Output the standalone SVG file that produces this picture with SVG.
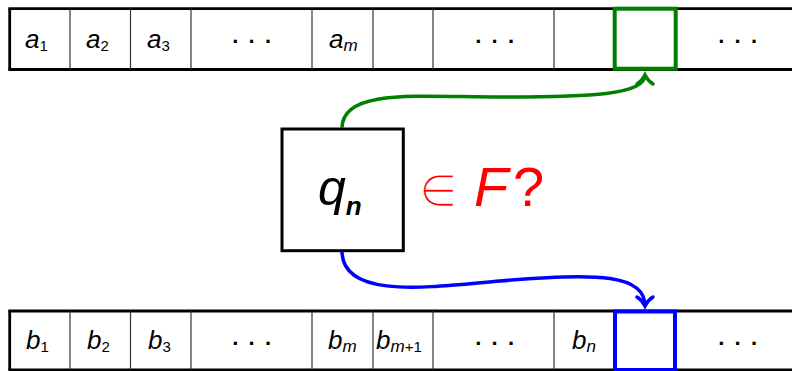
<svg xmlns="http://www.w3.org/2000/svg" width="792" height="371" viewBox="0 0 792 371">
<style>
.tape{stroke:#000;stroke-width:2.8;fill:none}
.div{stroke:#333;stroke-width:1.2}
.sym{font-family:"Liberation Sans",Arial,sans-serif;font-style:italic;font-size:26px;fill:#000}
.sub{font-family:"Liberation Sans",Arial,sans-serif;font-size:15px;font-style:normal}
.subi{font-family:"Liberation Sans",Arial,sans-serif;font-size:17px;font-style:italic}
.dots{font-family:"Liberation Sans",Arial,sans-serif;font-size:22px;font-weight:bold;fill:#000;letter-spacing:1.5px;text-anchor:middle}
.conn{fill:none;stroke-width:3.5}
</style>
<defs>
<marker id="arrG" markerUnits="userSpaceOnUse" viewBox="-12 -12 16 24" markerWidth="16" markerHeight="24" refX="0" refY="0" orient="auto">
<path d="M-9,-8 C-6,-3 -2,-1 0,0 C-2,1 -6,3 -9,8" fill="none" stroke="#008000" stroke-width="3.5" stroke-linecap="round"/>
</marker>
<marker id="arrB" markerUnits="userSpaceOnUse" viewBox="-12 -12 16 24" markerWidth="16" markerHeight="24" refX="0" refY="0" orient="auto">
<path d="M-9,-8 C-6,-3 -2,-1 0,0 C-2,1 -6,3 -9,8" fill="none" stroke="#0000ff" stroke-width="3.5" stroke-linecap="round"/>
</marker>
</defs>

<g id="tape-top">
<line class="tape" x1="8.3" y1="8.7" x2="792" y2="8.7"/>
<line class="tape" x1="8.3" y1="69.5" x2="792" y2="69.5"/>
<line class="tape" x1="9.7" y1="8.7" x2="9.7" y2="69.5"/>
<line class="div" x1="70" y1="8.7" x2="70" y2="69.5"/>
<line class="div" x1="130.5" y1="8.7" x2="130.5" y2="69.5"/>
<line class="div" x1="191" y1="8.7" x2="191" y2="69.5"/>
<line class="div" x1="312" y1="8.7" x2="312" y2="69.5"/>
<line class="div" x1="373" y1="8.7" x2="373" y2="69.5"/>
<line class="div" x1="433" y1="8.7" x2="433" y2="69.5"/>
<line class="div" x1="554" y1="8.7" x2="554" y2="69.5"/>
<text class="sym" x="25" y="47.5">a<tspan class="sub" dy="3">1</tspan></text>
<text class="sym" x="86" y="47.5">a<tspan class="sub" dy="3">2</tspan></text>
<text class="sym" x="147" y="47.5">a<tspan class="sub" dy="3">3</tspan></text>
<text class="dots" x="253" y="48.5">· · ·</text>
<text class="sym" x="329" y="47.5">a<tspan class="subi" dy="3">m</tspan></text>
<text class="dots" x="496" y="48.5">· · ·</text>
<text class="dots" x="739" y="48.5">· · ·</text>
</g>

<g id="head-cell-top">
<rect x="614.7" y="8.7" width="61" height="60" fill="none" stroke="#008000" stroke-width="4"/>
</g>

<g id="tape-bottom">
<line class="tape" x1="8.3" y1="311" x2="792" y2="311"/>
<line class="tape" x1="8.3" y1="370" x2="792" y2="370"/>
<line class="tape" x1="9.7" y1="311" x2="9.7" y2="370"/>
<line class="div" x1="70" y1="311" x2="70" y2="370"/>
<line class="div" x1="130.5" y1="311" x2="130.5" y2="370"/>
<line class="div" x1="191" y1="311" x2="191" y2="370"/>
<line class="div" x1="312" y1="311" x2="312" y2="370"/>
<line class="div" x1="373" y1="311" x2="373" y2="370"/>
<line class="div" x1="433" y1="311" x2="433" y2="370"/>
<line class="div" x1="554" y1="311" x2="554" y2="370"/>
<text class="sym" x="26" y="349">b<tspan class="sub" dy="3">1</tspan></text>
<text class="sym" x="87" y="349">b<tspan class="sub" dy="3">2</tspan></text>
<text class="sym" x="148" y="349">b<tspan class="sub" dy="3">3</tspan></text>
<text class="dots" x="253" y="350.5">· · ·</text>
<text class="sym" x="328" y="349">b<tspan class="subi" dy="3">m</tspan></text>
<text class="sym" x="376" y="349">b<tspan class="subi" dy="3">m</tspan><tspan class="sub">+1</tspan></text>
<text class="dots" x="496" y="350.5">· · ·</text>
<text class="sym" x="572" y="349">b<tspan class="subi" dy="3">n</tspan></text>
<text class="dots" x="739" y="350.5">· · ·</text>
</g>

<g id="head-cell-bottom">
<rect x="615" y="311.5" width="60" height="58.5" fill="none" stroke="#0000ff" stroke-width="4"/>
</g>

<g id="state">
<rect x="282" y="129" width="121.3" height="121.7" fill="none" stroke="#000" stroke-width="3"/>
<text x="318" y="205" font-family="'Liberation Sans',Arial,sans-serif" font-style="italic" font-size="50" fill="#000">q<tspan font-size="26" font-weight="bold" dy="10">n</tspan></text>
</g>

<g id="question">
<text x="419" y="206" font-family="'DejaVu Sans',sans-serif" font-size="44" fill="#ff0000" stroke="#ffffff" stroke-width="1.6">∈</text>
<text x="474" y="206" font-family="'Liberation Sans',Arial,sans-serif" font-style="italic" font-size="56" fill="#ff0000">F</text>
<text x="513" y="206" font-family="'Liberation Sans',Arial,sans-serif" font-size="56" fill="#ff0000">?</text>
</g>

<g id="connectors">
<path class="conn" stroke="#008000" d="M342,128 C342,88 420,97 500,97 C590,97 645,95 645,75" marker-end="url(#arrG)"/>
<path class="conn" stroke="#0000ff" d="M342,251 C342,300 430,287 500,281 C600,272 645,275 645,306" marker-end="url(#arrB)"/>
</g>
</svg>
